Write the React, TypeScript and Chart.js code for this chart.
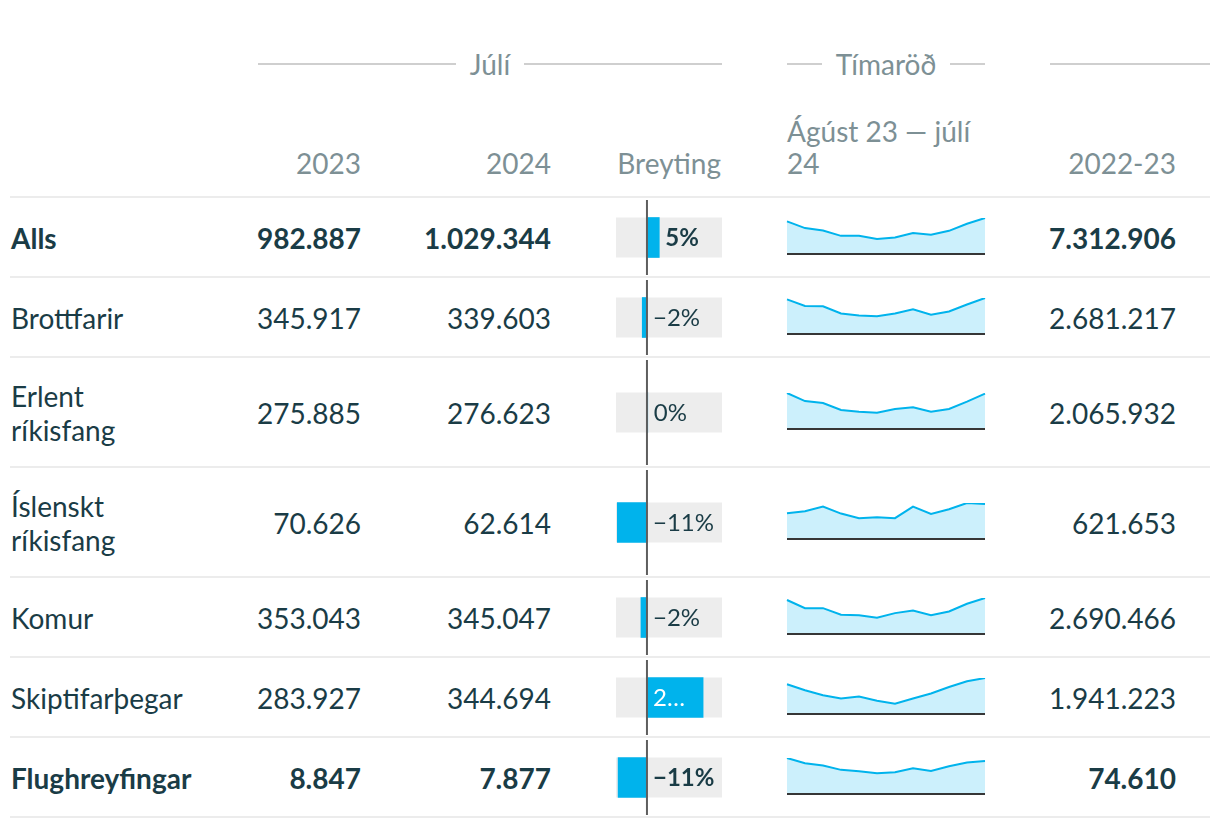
import React, { useEffect, useRef } from "react";
import { Chart, registerables } from "chart.js";

Chart.register(...registerables);

// ---------- data ----------
const groupHeaders = ["Júlí", "Tímaröð", ""];
const colHeaders = ["2023", "2024", "Breyting", "Ágúst 23 — júlí 24", "2022-23"];
const categories = [
  "Alls",
  "Brottfarir",
  "Erlent ríkisfang",
  "Íslenskt ríkisfang",
  "Komur",
  "Skiptifarþegar",
  "Flughreyfingar",
];
const boldRows = [true, false, false, false, false, false, true];
const july2023 = [982887, 345917, 275885, 70626, 353043, 283927, 8847];
const july2024 = [1029344, 339603, 276623, 62614, 345047, 344694, 7877];
const changePct = [4.7, -1.8, 0.3, -11.3, -2.3, 21.4, -11.0];
const changeLabels = ["5%", "\u22122%", "0%", "\u221211%", "\u22122%", "2\u2026", "\u221211%"];
const total2223 = [7312906, 2681217, 2065932, 621653, 2690466, 1941223, 74610];
const changeMin = -11.8;
const changeMax = 28.6;

const months = ["ágú 23", "sep 23", "okt 23", "nóv 23", "des 23", "jan 24", "feb 24", "mar 24", "apr 24", "maí 24", "jún 24", "júl 24"];
const sparkAlls = [932000, 741000, 672000, 519000, 519000, 432000, 470000, 597000, 548000, 663000, 865000, 1029344];
const sparkBrottfarir = [327000, 265000, 262000, 194000, 175000, 168000, 194000, 234000, 181000, 212000, 278000, 339603];
const sparkErlent = [282000, 219000, 204000, 149000, 136000, 128000, 157000, 170000, 136000, 157000, 214000, 276623];
const sparkIslenskt = [46100, 49700, 57900, 45500, 37200, 39000, 37200, 57900, 44900, 53200, 64400, 62614];
const sparkKomur = [326000, 248000, 248000, 184000, 180000, 155000, 200000, 226000, 180000, 216000, 290000, 345047];
const sparkSkipti = [285000, 228000, 180000, 149000, 168000, 127000, 98000, 149000, 196000, 259000, 313000, 344694];
const sparkFlug = [8590, 7330, 6780, 5760, 5440, 4970, 5210, 6150, 5510, 6620, 7490, 7877];
const sparkSeries = [sparkAlls, sparkBrottfarir, sparkErlent, sparkIslenskt, sparkKomur, sparkSkipti, sparkFlug];

// ---------- style ----------
const FONT = "Lato, 'Open Sans', sans-serif";
const DARK = "#1a3c46";
const GRAY = "#7d9095";
const BLUE = "#00b3ec";
const AREA = "#ccf0fc";
const SEP = "#ececec";
const GROUPLINE = "#cfcfcf";
const FS = 28;

const fmt = (n: number) => String(n).replace(/\B(?=(\d{3})+(?!\d))/g, ".");

function ChangeBar({ value, label, bold, width, height }: { value: number; label: string; bold: boolean; width: number; height: number }) {
  const ref = useRef<HTMLCanvasElement | null>(null);
  useEffect(() => {
    if (!ref.current) return;
    const plugin = {
      id: "changeDecor",
      beforeDatasetsDraw(chart: any) {
        const { ctx, chartArea } = chart;
        const el = chart.getDatasetMeta(0).data[0];
        const h = el.height;
        ctx.save();
        ctx.fillStyle = "#ededed";
        ctx.fillRect(chartArea.left, el.y - h / 2, chartArea.right - chartArea.left, h);
        ctx.restore();
      },
      afterDatasetsDraw(chart: any) {
        const { ctx, chartArea } = chart;
        const x0 = chart.scales.x.getPixelForValue(0);
        const el = chart.getDatasetMeta(0).data[0];
        ctx.save();
        ctx.strokeStyle = "#5e5e5e";
        ctx.lineWidth = 2;
        ctx.beginPath();
        ctx.moveTo(x0, chartArea.top);
        ctx.lineTo(x0, chartArea.bottom);
        ctx.stroke();
        ctx.font = `${bold ? 700 : 400} 24px ${FONT}`;
        ctx.textBaseline = "middle";
        ctx.textAlign = "left";
        const w = ctx.measureText(label).width;
        const pad = 6;
        const outX = Math.max(el.x, x0) + pad;
        if (outX + w <= chartArea.right) {
          ctx.fillStyle = DARK;
          ctx.fillText(label, outX, el.y + 1);
        } else {
          ctx.fillStyle = "#ffffff";
          ctx.fillText(label, x0 + pad, el.y + 1);
        }
        ctx.restore();
      },
    };
    const chart = new Chart(ref.current, {
      type: "bar",
      data: {
        labels: [""],
        datasets: [
          {
            data: [value],
            backgroundColor: BLUE,
            borderWidth: 0,
            barThickness: 40,
          },
        ],
      },
      options: {
        indexAxis: "y",
        responsive: false,
        animation: false,
        events: [],
        layout: { padding: 0 },
        plugins: { legend: { display: false }, tooltip: { enabled: false } },
        scales: {
          x: { display: false, min: changeMin, max: changeMax },
          y: { display: false },
        },
      },
      plugins: [plugin],
    } as any);
    return () => chart.destroy();
  }, [value, label, bold]);
  return <canvas ref={ref} width={width} height={height} style={{ display: "block", width, height }} />;
}

function Spark({ data, width, height }: { data: number[]; width: number; height: number }) {
  const ref = useRef<HTMLCanvasElement | null>(null);
  useEffect(() => {
    if (!ref.current) return;
    const plugin = {
      id: "baseline",
      afterDatasetsDraw(chart: any) {
        const { ctx, chartArea } = chart;
        const y0 = chart.scales.y.getPixelForValue(0);
        ctx.save();
        ctx.strokeStyle = "#363636";
        ctx.lineWidth = 2;
        ctx.beginPath();
        ctx.moveTo(chartArea.left, y0);
        ctx.lineTo(chartArea.right, y0);
        ctx.stroke();
        ctx.restore();
      },
    };
    const chart = new Chart(ref.current, {
      type: "line",
      data: {
        labels: months,
        datasets: [
          {
            data,
            borderColor: BLUE,
            borderWidth: 2,
            backgroundColor: AREA,
            fill: "origin",
            pointRadius: 0,
            tension: 0,
          },
        ],
      },
      options: {
        responsive: false,
        animation: false,
        events: [],
        layout: { padding: { left: 2, right: 2, top: 3, bottom: 5 } },
        plugins: { legend: { display: false }, tooltip: { enabled: false } },
        scales: {
          x: { display: false },
          y: { display: false, min: 0, max: Math.max(...data) },
        },
      },
      plugins: [plugin],
    } as any);
    return () => chart.destroy();
  }, [data]);
  return <canvas ref={ref} width={width} height={height} style={{ display: "block", width, height }} />;
}

export default function App() {
  const rowHeights = categories.map((c) => (c.includes(" ") ? 110 : 80));
  const tops: number[] = [];
  let acc = 197;
  rowHeights.forEach((h) => {
    tops.push(acc);
    acc += h;
  });

  const groupLine = (left: number, width: number, text: string) => (
    <div
      key={left}
      style={{ position: "absolute", left, width, top: 48, height: 32, display: "flex", alignItems: "center" }}
    >
      <div style={{ flex: 1, height: 2, background: GROUPLINE }} />
      {text ? (
        <>
          <div style={{ padding: "0 14px", lineHeight: "32px", color: GRAY }}>{text}</div>
          <div style={{ flex: 1, height: 2, background: GROUPLINE }} />
        </>
      ) : null}
    </div>
  );

  const headerCell = (left: number, width: number, text: string, align: "left" | "right") => (
    <div
      key={text}
      style={{
        position: "absolute",
        left,
        width,
        top: 112,
        height: 67,
        display: "flex",
        alignItems: "flex-end",
        justifyContent: align === "right" ? "flex-end" : "flex-start",
        textAlign: align,
        lineHeight: "32px",
        color: GRAY,
      }}
    >
      <div>{text}</div>
    </div>
  );

  return (
    <div
      style={{
        position: "fixed",
        left: 0,
        top: 0,
        width: 1220,
        height: 828,
        background: "#fff",
        fontFamily: FONT,
        fontSize: FS,
        overflow: "hidden",
      }}
    >
      {groupLine(258, 464, groupHeaders[0])}
      {groupLine(787, 198, groupHeaders[1])}
      {groupLine(1050, 160, groupHeaders[2])}

      {headerCell(200, 161, colHeaders[0], "right")}
      {headerCell(400, 151, colHeaders[1], "right")}
      {headerCell(600, 121, colHeaders[2], "right")}
      {headerCell(787, 198, colHeaders[3], "left")}
      {headerCell(1000, 176, colHeaders[4], "right")}

      {tops.map((t, i) => (
        <div key={"sep" + i} style={{ position: "absolute", left: 10, width: 1200, top: t - 1, height: 2, background: SEP }} />
      ))}
      <div style={{ position: "absolute", left: 10, width: 1200, top: acc - 1, height: 2, background: SEP }} />

      {categories.map((cat, i) => {
        const t = tops[i];
        const h = rowHeights[i];
        const weight = boldRows[i] ? 700 : 400;
        const cell = (left: number, width: number, content: React.ReactNode, align: "left" | "right") => (
          <div
            style={{
              position: "absolute",
              left,
              width,
              top: t + 2,
              height: h - 2,
              display: "flex",
              alignItems: "center",
              justifyContent: align === "right" ? "flex-end" : "flex-start",
              color: DARK,
              fontWeight: weight,
              lineHeight: "34px",
            }}
          >
            {content}
          </div>
        );
        return (
          <React.Fragment key={cat}>
            {cell(
              11,
              230,
              <div>
                {cat.split(" ").map((w, k) => (
                  <div key={k}>{w}</div>
                ))}
              </div>,
              "left"
            )}
            {cell(200, 161, <div>{fmt(july2023[i])}</div>, "right")}
            {cell(400, 151, <div>{fmt(july2024[i])}</div>, "right")}
            <div style={{ position: "absolute", left: 616, top: t + 3, width: 106, height: h - 5 }}>
              <ChangeBar value={changePct[i]} label={changeLabels[i]} bold={boldRows[i]} width={106} height={h - 5} />
            </div>
            <div style={{ position: "absolute", left: 785, top: t + h / 2 - 22, width: 202, height: 44 }}>
              <Spark data={sparkSeries[i]} width={202} height={44} />
            </div>
            {cell(1000, 176, <div>{fmt(total2223[i])}</div>, "right")}
          </React.Fragment>
        );
      })}
    </div>
  );
}
